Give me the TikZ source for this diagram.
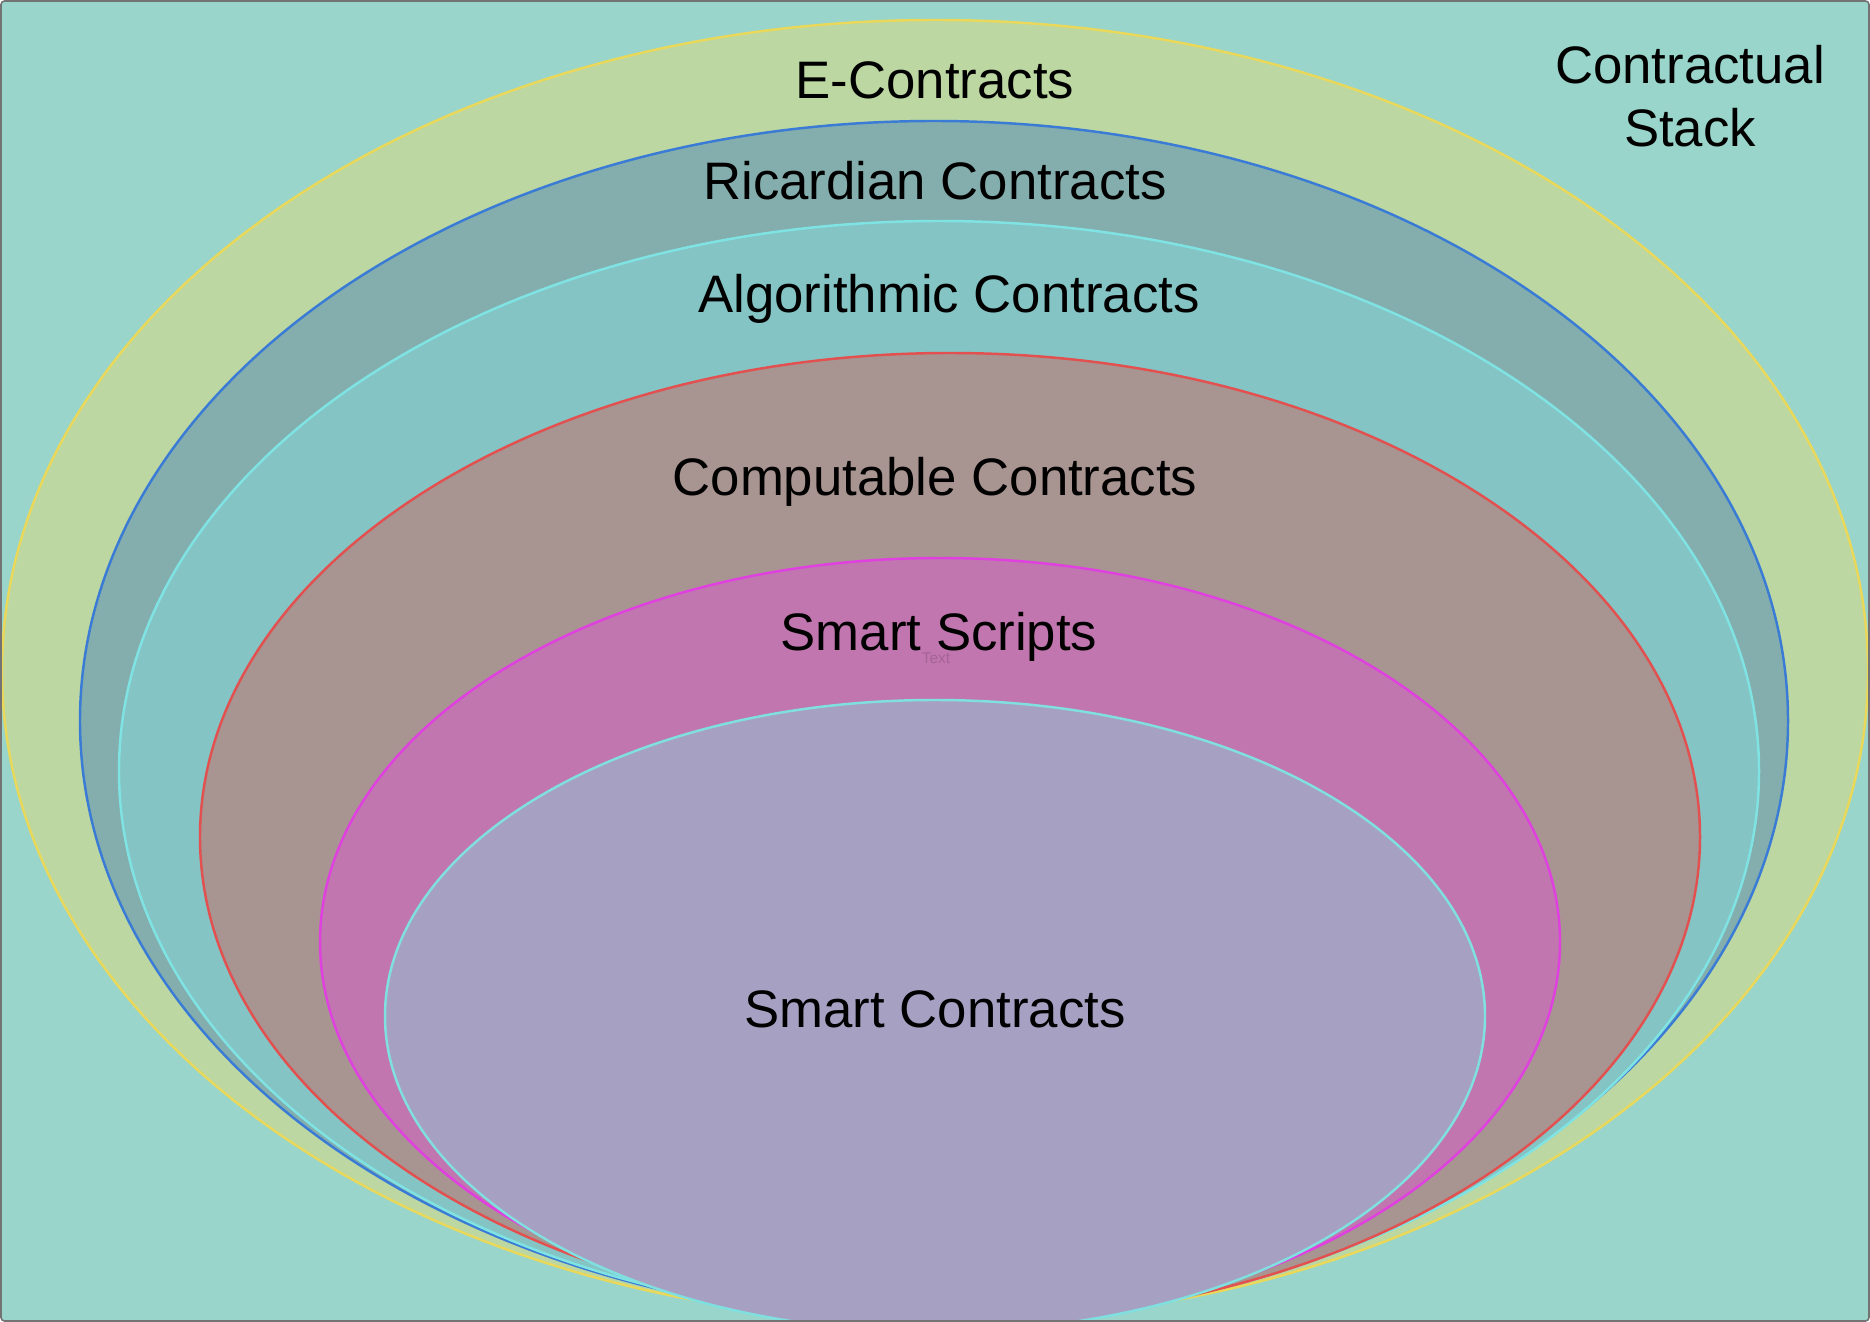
\documentclass[tikz,border=0pt]{standalone}
\usepackage{fontspec}
\setmainfont{Liberation Sans}

\definecolor{bgcol}{HTML}{99D5CA}
\definecolor{econfill}{HTML}{BCD7A1}
\definecolor{econline}{HTML}{E9D85A}
\definecolor{ricfill}{HTML}{84AEAD}
\definecolor{ricline}{HTML}{3A7BD6}
\definecolor{algfill}{HTML}{84C4C4}
\definecolor{algline}{HTML}{80E3E3}
\definecolor{compfill}{HTML}{A89491}
\definecolor{compline}{HTML}{E2504F}
\definecolor{scrfill}{HTML}{C176AF}
\definecolor{scrline}{HTML}{E040E0}
\definecolor{smartfill}{HTML}{A6A1C2}
\definecolor{smartline}{HTML}{80E0E0}

\tikzset{
  layer/.style={line width=0.7pt},
  lbl/.style={font=\fontsize{15}{18}\selectfont, text=black, align=center, inner sep=0pt}
}

\begin{document}
\begin{tikzpicture}[x=0.01cm,y=-0.01cm]
  \useasboundingbox (0,0) rectangle (1870,1322);
  \fill[bgcol, rounded corners=1pt] (1,1) rectangle (1869,1321);

  \begin{scope}
    \clip (1,1) rectangle (1869,1320);
    \filldraw[layer, fill=econfill, draw=econline]
        (935,671) ellipse [x radius=933, y radius=651];
    \filldraw[layer, fill=ricfill, draw=ricline]
        (934,721) ellipse [x radius=854, y radius=600];
    \filldraw[layer, fill=algfill, draw=algline]
        (939,771) ellipse [x radius=820, y radius=550];
    \filldraw[layer, fill=compfill, draw=compline]
        (950,837) ellipse [x radius=750, y radius=484];
    \filldraw[layer, fill=scrfill, draw=scrline]
        (940,942) ellipse [x radius=620, y radius=384];
    \filldraw[layer, fill=smartfill, draw=smartline]
        (935,1016) ellipse [x radius=550, y radius=316];
  \end{scope}

  \draw[line width=0.45pt, draw=black!55, rounded corners=1pt]
      (1,1) rectangle (1869,1321);

  \node[lbl] (econ)  at (935,80)   {E-Contracts};
  \node[lbl] (ric)   at (935,181)  {Ricardian Contracts};
  \node[lbl] (alg)   at (949,299)  {Algorithmic Contracts};
  \node[lbl] (comp)  at (935,482)  {Computable Contracts};
  \node[lbl] (scr)   at (939,637)  {Smart Scripts};
  \node[font=\fontsize{4.4}{5}\selectfont, text=scrfill!85!black, inner sep=0pt]
      (scrtext) at (936,658) {Text};
  \node[lbl] (smart) at (935,1009) {Smart Contracts};
  \node[lbl] (stack) at (1690,96)  {Contractual\\Stack};
\end{tikzpicture}
\end{document}
